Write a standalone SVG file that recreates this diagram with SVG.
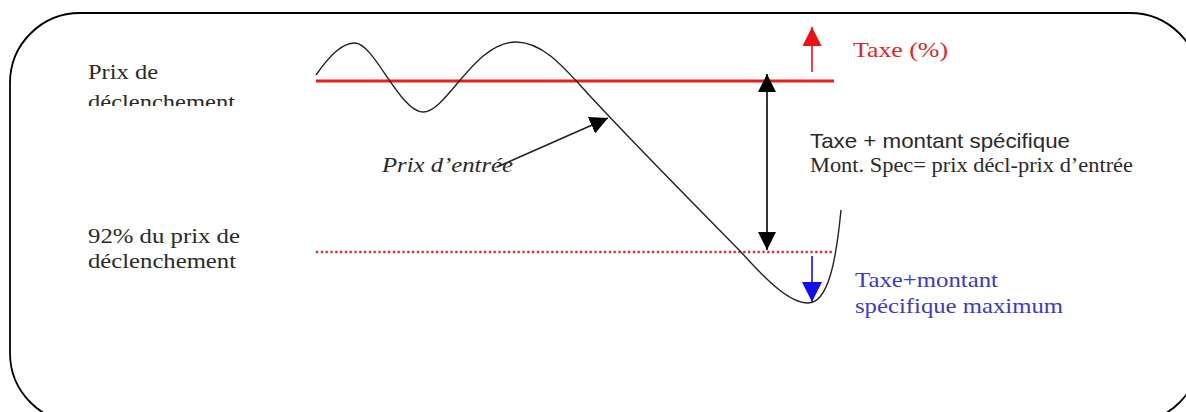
<svg xmlns="http://www.w3.org/2000/svg" width="1186" height="412" viewBox="0 0 1186 412">
  <defs>
    <style>
      .serif { font-family: "Liberation Serif", "Times New Roman", serif; font-size: 22px; fill: #2a2a2a; }
      .sans { font-family: "Liberation Sans", Arial, sans-serif; font-size: 21px; fill: #2a2a2a; }
      .red { fill: #e8222a; }
      .blue { fill: #3a3acc; }
      .conn { fill: none; stroke-width: 1.6; }
    </style>
    <marker id="ahBlack" viewBox="0 0 10 10" refX="10" refY="5" markerWidth="18" markerHeight="18" markerUnits="userSpaceOnUse" orient="auto-start-reverse">
      <path d="M0,0 L10,5 L0,10 z" fill="#000"/>
    </marker>
    <marker id="ahRed" viewBox="0 0 10 10" refX="10" refY="5" markerWidth="19" markerHeight="19" markerUnits="userSpaceOnUse" orient="auto">
      <path d="M0,0 L10,5 L0,10 z" fill="#ee1111"/>
    </marker>
    <marker id="ahBlue" viewBox="0 0 10 10" refX="10" refY="5" markerWidth="20" markerHeight="20" markerUnits="userSpaceOnUse" orient="auto">
      <path d="M0,0 L10,5 L0,10 z" fill="#1010ee"/>
    </marker>
    <clipPath id="clipTop">
      <rect x="0" y="0" width="400" height="106"/>
    </clipPath>
  </defs>

  <rect x="0" y="0" width="1186" height="412" fill="#fff"/>

  <g id="frame">
    <rect x="10" y="13" width="1190" height="410" rx="70" ry="70" fill="none" stroke="#000" stroke-width="1.8"/>
  </g>

  <g id="levels">
    <line id="trigger-line" x1="316" y1="81" x2="834" y2="81" stroke="#ee1c1c" stroke-width="3"/>
    <line id="floor-line" x1="316" y1="252" x2="832" y2="252" stroke="#ee2233" stroke-width="2.6" stroke-dasharray="2.2 2.6"/>
  </g>

  <g id="price-curve">
    <path d="M316,75 C330,55 342,43 355,43 C374,43 400,112 423,112 C447,112 474,42 516,42 C544,42 566,70 590,96 C640,150 700,210 741,252 C768,282 790,303 808,303 C828,303 836,262 841,210" fill="none" stroke="#222" stroke-width="1.4"/>
  </g>

  <g id="connectors">
    <line class="conn" x1="767" y1="74" x2="767" y2="250" stroke="#000" marker-start="url(#ahBlack)" marker-end="url(#ahBlack)"/>
    <line class="conn" x1="497" y1="167" x2="608" y2="118" stroke="#222" marker-end="url(#ahBlack)"/>
    <line class="conn" x1="812" y1="72" x2="812" y2="27" stroke="#ee1111" marker-end="url(#ahRed)"/>
    <line class="conn" x1="812" y1="256" x2="812" y2="302" stroke="#1010ee" marker-end="url(#ahBlue)"/>
  </g>

  <g id="label-trigger" clip-path="url(#clipTop)">
    <text class="serif" x="88" y="79" textLength="70" lengthAdjust="spacingAndGlyphs">Prix de</text>
    <text class="serif" x="88" y="109" textLength="147" lengthAdjust="spacingAndGlyphs">déclenchement</text>
  </g>

  <g id="label-92">
    <text class="serif" x="88" y="243" textLength="152" lengthAdjust="spacingAndGlyphs">92% du prix de</text>
    <text class="serif" x="88" y="268" textLength="148" lengthAdjust="spacingAndGlyphs">déclenchement</text>
  </g>

  <g id="label-entry">
    <text class="serif" x="382" y="172" font-style="italic" textLength="131" lengthAdjust="spacingAndGlyphs">Prix d’entrée</text>
  </g>

  <g id="label-tax">
    <text class="serif red" x="853" y="57" font-size="20" textLength="95" lengthAdjust="spacingAndGlyphs">Taxe (%)</text>
  </g>

  <g id="label-tax-specific">
    <text class="sans" x="810" y="148" textLength="260" lengthAdjust="spacingAndGlyphs">Taxe + montant spécifique</text>
    <text class="serif" x="810" y="172" font-size="21" textLength="323" lengthAdjust="spacingAndGlyphs">Mont. Spec= prix décl-prix d’entrée</text>
  </g>

  <g id="label-max">
    <text class="serif blue" x="855" y="287" textLength="143" lengthAdjust="spacingAndGlyphs">Taxe+montant</text>
    <text class="serif blue" x="855" y="313" textLength="208" lengthAdjust="spacingAndGlyphs">spécifique maximum</text>
  </g>
</svg>
